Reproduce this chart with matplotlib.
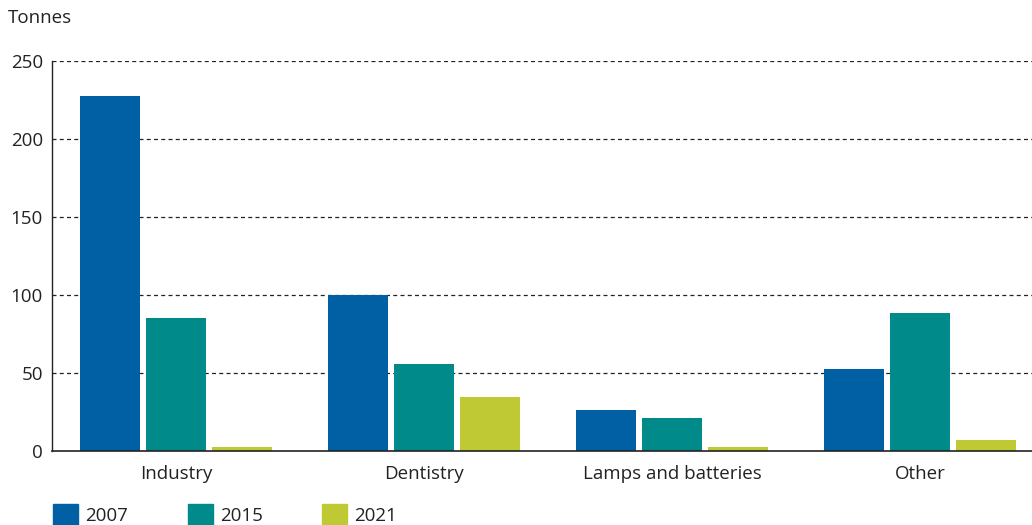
import matplotlib
matplotlib.use("Agg")
import matplotlib.pyplot as plt
from matplotlib.patches import Rectangle
import numpy as np

categories = ["Industry", "Dentistry", "Lamps and batteries", "Other"]
years = ["2007", "2015", "2021"]
values_2007 = [227.4, 100.0, 26.1, 52.4]
values_2015 = [85.0, 55.6, 21.0, 88.3]
values_2021 = [2.5, 34.4, 2.5, 6.8]
yticks = [0, 50, 100, 150, 200, 250]
colors = ["#0060A3", "#008A8A", "#BEC934"]

plt.rcParams['font.family'] = ['Open Sans', 'DejaVu Sans']
FS = 13.5
TC = "#222222"

fig = plt.figure(figsize=(10.32, 5.25), dpi=100)
W, H = 1032, 525
ax = fig.add_axes([52 / W, (H - 450.7) / H, 1 - 52 / W, (450.7 - 60.7) / H])

x = np.arange(len(categories))
bw = 60 / 248
step = 66 / 248
series = [values_2007, values_2015, values_2021]
for i, (vals, c, lab) in enumerate(zip(series, colors, years)):
    ax.bar(x + (i - 1) * step, vals, width=bw, color=c, label=lab, zorder=3)

ax.set_xlim(-0.5, 3.5 - 12 / 248)
ax.set_ylim(0, 250)
ax.set_yticks(yticks)
ax.set_yticklabels([str(t) for t in yticks], fontsize=FS, color=TC)
ax.set_xticks(x)
ax.set_xticklabels(categories, fontsize=FS, color=TC)
ax.tick_params(axis="both", length=0)
ax.tick_params(axis="x", pad=10)
ax.tick_params(axis="y", pad=6.5)
for yv in yticks[1:]:
    ax.axhline(yv, color=TC, lw=0.9, ls=(0, (3.2, 2.6)), zorder=1)
for s in ["top", "right"]:
    ax.spines[s].set_visible(False)
ax.spines["left"].set_color(TC)
ax.spines["bottom"].set_color(TC)
ax.spines["left"].set_linewidth(1.0)
ax.spines["bottom"].set_linewidth(1.2)
ax.spines["left"].set_zorder(4)
ax.spines["bottom"].set_zorder(4)

fig.text(8 / W, 1 - 18 / H, "Tonnes", fontsize=FS, color=TC, va="center", ha="left")

# legend
leg_x = [53, 188, 322]
for lx, c, lab in zip(leg_x, colors, years):
    fig.patches.append(Rectangle((lx / W, (H - 530) / H), 25 / W, 26 / H,
                                 transform=fig.transFigure, color=c, zorder=5))
    fig.text((lx + 32) / W, 1 - 516 / H, lab, fontsize=FS, color=TC,
             va="center", ha="left")

fig.savefig("out.png", dpi=100)
